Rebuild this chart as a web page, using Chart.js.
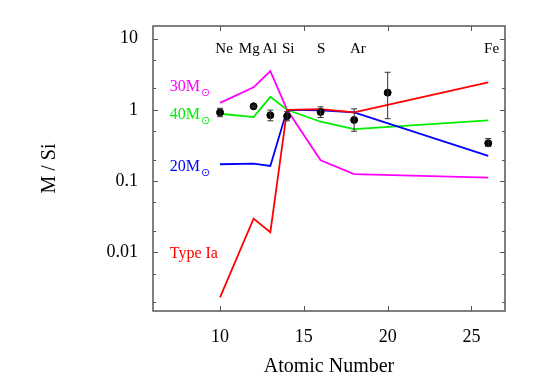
<!DOCTYPE html>
<html>
<head>
<meta charset="utf-8"/>
<script src="https://cdn.jsdelivr.net/npm/chart.js@4"></script>
<style>
  body { margin: 0; background: #fff; }
</style>
</head>
<body>
<canvas id="chart" width="545" height="380"></canvas>
<script>
// model abundance ratios, by atomic number
var Z = [10, 12, 13, 14, 16, 18, 26];
var m30 = [1.25, 2.07, 3.5, 1.0, 0.196, 0.125, 0.112];
var m40 = [0.88, 0.79, 1.52, 1.0, 0.68, 0.535, 0.71];
var m20 = [0.172, 0.176, 0.163, 1.0, 0.98, 0.92, 0.225];
var typeIa = [0.00233, 0.0297, 0.0191, 1.0, 1.02, 0.92, 2.43];

// observed points with error bars
var obsZ = [10, 12, 13, 14, 16, 18, 20, 26];
var obsVal = [0.92, 1.12, 0.84, 0.815, 0.93, 0.72, 1.74, 0.34];
var obsLo = [0.80, 1.08, 0.70, 0.70, 0.78, 0.50, 0.75, 0.305];
var obsHi = [1.05, 1.16, 0.99, 0.94, 1.10, 1.03, 3.36, 0.395];

// element names along the top (label positions in atomic-number units)
var elemNames = ["Ne", "Mg", "Al", "Si", "S", "Ar", "Fe"];
var elemPos = [10.24, 11.74, 12.96, 14.07, 16.04, 18.22, 26.2];

// model labels
var modelLabels = [
  {text: "30M", sun: true, color: "#ff00ff", x: 7, y: 2.07},
  {text: "40M", sun: true, color: "#00ee00", x: 7, y: 0.84},
  {text: "20M", sun: true, color: "#0000ff", x: 7, y: 0.156},
  {text: "Type Ia", sun: false, color: "#ff0000", x: 7, y: 0.0095}
];

var xTicks = [10, 15, 20, 25];
var yTicks = [0.002, 0.005, 0.01, 0.02, 0.05, 0.1, 0.2, 0.5, 1, 2, 5, 10];

function pts(ys) {
  return Z.map(function (z, i) { return {x: z, y: ys[i]}; });
}

var serif = "'Liberation Serif', 'DejaVu Serif', serif";

var extras = {
  id: "extras",
  afterDatasetsDraw: function (chart) {
    var ctx = chart.ctx, xs = chart.scales.x, ys = chart.scales.y;
    // error bars
    ctx.save();
    ctx.strokeStyle = "#333";
    ctx.lineWidth = 1;
    for (var i = 0; i < obsZ.length; i++) {
      var px = xs.getPixelForValue(obsZ[i]);
      var lo = ys.getPixelForValue(obsLo[i]);
      var hi = ys.getPixelForValue(obsHi[i]);
      ctx.beginPath();
      ctx.moveTo(px, lo); ctx.lineTo(px, hi);
      ctx.moveTo(px - 3, lo); ctx.lineTo(px + 3, lo);
      ctx.moveTo(px - 3, hi); ctx.lineTo(px + 3, hi);
      ctx.stroke();
    }
    ctx.restore();
  },
  afterDraw: function (chart) {
    var ctx = chart.ctx, xs = chart.scales.x, ys = chart.scales.y;
    var a = chart.chartArea;
    ctx.save();
    // frame
    ctx.strokeStyle = "#555";
    ctx.lineWidth = 1.5;
    ctx.strokeRect(a.left, a.top, a.right - a.left, a.bottom - a.top);
    ctx.lineWidth = 1;
    ctx.beginPath();
    xTicks.forEach(function (v) {
      var p = Math.round(xs.getPixelForValue(v)) + 0.5;
      ctx.moveTo(p, a.bottom); ctx.lineTo(p, a.bottom - 5);
      ctx.moveTo(p, a.top); ctx.lineTo(p, a.top + 5);
    });
    yTicks.forEach(function (v) {
      var p = Math.round(ys.getPixelForValue(v)) + 0.5;
      var major = Math.abs(Math.log10(v) - Math.round(Math.log10(v))) < 1e-6;
      var len = major ? 5 : 3;
      ctx.moveTo(a.left, p); ctx.lineTo(a.left + len, p);
      ctx.moveTo(a.right, p); ctx.lineTo(a.right - len, p);
    });
    ctx.stroke();

    // element names
    ctx.fillStyle = "#000";
    ctx.font = "15px " + serif;
    ctx.textAlign = "center";
    ctx.textBaseline = "middle";
    var ey = ys.getPixelForValue(7.2);
    elemPos.forEach(function (z, i) {
      ctx.fillText(elemNames[i], xs.getPixelForValue(z), ey);
    });

    // model labels
    ctx.textAlign = "left";
    modelLabels.forEach(function (m) {
      var x = xs.getPixelForValue(m.x), y = ys.getPixelForValue(m.y);
      ctx.fillStyle = m.color;
      ctx.font = "16px " + serif;
      ctx.fillText(m.text, x, y);
      if (m.sun) {
        var w = ctx.measureText(m.text).width;
        ctx.font = "11px 'DejaVu Sans', sans-serif";
        ctx.fillText("\u2299", x + w + 1, y + 6);
      }
    });

    // axis titles
    ctx.fillStyle = "#000";
    ctx.font = "20px " + serif;
    ctx.textAlign = "center";
    ctx.fillText("Atomic Number", (a.left + a.right) / 2, 367);
    ctx.translate(50, (a.top + a.bottom) / 2);
    ctx.rotate(-Math.PI / 2);
    ctx.fillText("M / Si", 0, 0);
    ctx.restore();
  }
};

var lineStyle = function (label, data, color, order) {
  return {
    label: label, data: pts(data), showLine: true, borderColor: color,
    backgroundColor: color, borderWidth: 1.8, pointRadius: 0, order: order
  };
};

new Chart(document.getElementById("chart").getContext("2d"), {
  type: "scatter",
  data: {
    datasets: [
      {
        label: "data",
        data: obsZ.map(function (z, i) { return {x: z, y: obsVal[i]}; }),
        showLine: false, pointRadius: 3.5, pointBackgroundColor: "#000",
        pointBorderColor: "#000", order: 0
      },
      lineStyle("Type Ia", typeIa, "#ff0000", 1),
      lineStyle("20M", m20, "#0000ff", 2),
      lineStyle("40M", m40, "#00ee00", 3),
      lineStyle("30M", m30, "#ff00ff", 4)
    ]
  },
  options: {
    responsive: false,
    animation: false,
    layout: {padding: {left: 0, top: 26, right: 40, bottom: 0}},
    plugins: {legend: {display: false}, tooltip: {enabled: false}},
    scales: {
      x: {
        type: "linear", min: 6, max: 27,
        afterBuildTicks: function (s) { s.ticks = xTicks.map(function (v) { return {value: v}; }); },
        afterFit: function (s) { s.height = 69; },
        grid: {display: false, drawTicks: false},
        border: {display: false},
        ticks: {color: "#000", padding: 15, font: {family: serif, size: 18}}
      },
      y: {
        type: "logarithmic", min: 0.0015, max: 15,
        afterBuildTicks: function (s) { s.ticks = yTicks.map(function (v) { return {value: v}; }); },
        afterFit: function (s) { s.width = 153; },
        grid: {display: false, drawTicks: false},
        border: {display: false},
        ticks: {
          color: "#000", padding: 15, font: {family: serif, size: 18},
          autoSkip: false,
          callback: function (v) {
            var l = Math.log10(v);
            if (Math.abs(l - Math.round(l)) < 1e-6) return String(v);
            return "";
          }
        }
      }
    }
  },
  plugins: [extras]
});
</script>
</body>
</html>
